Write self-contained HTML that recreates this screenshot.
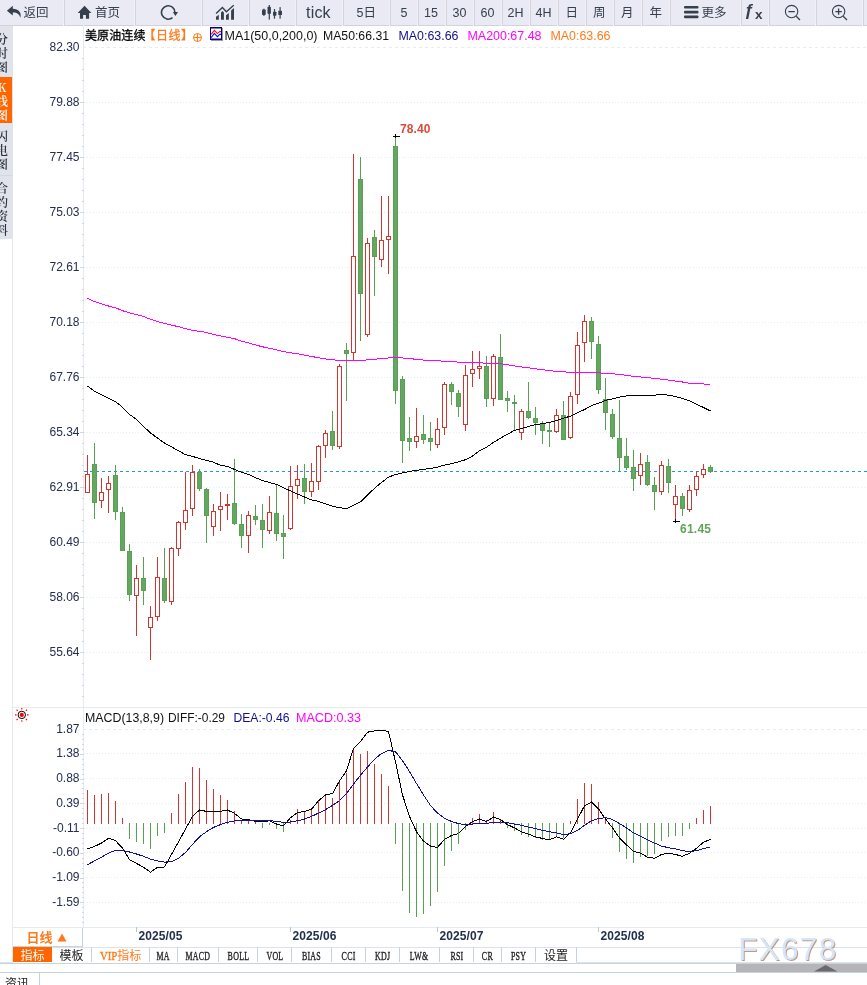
<!DOCTYPE html>
<html lang="zh"><head><meta charset="utf-8"><title>美原油连续 日线</title>
<style>
html,body{margin:0;padding:0;background:#fff;}
body{width:867px;height:985px;position:relative;overflow:hidden;font-family:"Liberation Sans","Noto Sans CJK SC",sans-serif;color:#333c48;}
#tb{position:absolute;left:0;top:0;width:867px;height:25px;background:#e9eaf4;border-bottom:1px solid #d0d2dc;}
#tb .c{position:absolute;top:0;height:25px;border-right:1px solid #d1d3dd;box-shadow:inset -1px 0 0 #f0f1f7;box-sizing:border-box;}
#tb .t{position:absolute;top:1px;height:25px;line-height:25px;font-size:12.5px;white-space:nowrap;color:#36404c;}
#tb svg{position:absolute;}
#sb{position:absolute;left:0;top:26px;width:13px;height:213px;background:#e1e3eb;overflow:hidden;}
#sb div{position:absolute;left:0;width:12px;font-size:12px;line-height:14px;color:#2a3441;display:flex;align-items:center;box-sizing:border-box;white-space:nowrap;font-family:"Noto Serif CJK SC","Noto Sans CJK SC",serif;}
.ab{position:absolute;white-space:nowrap;}
#sb span{display:block;margin-left:-4px;width:12px;text-align:center;font-weight:600;position:relative;top:1px}
#tabs{position:absolute;left:13px;top:947px;height:15px;font-size:12px;line-height:18px;}
#tabs span{position:absolute;top:0;height:15px;text-align:center;border-right:1px solid #c9d3dc;box-sizing:border-box;color:#222;white-space:nowrap;}
#tabs span.m{font-family:"Liberation Serif","Noto Sans CJK SC",serif;font-size:12px;letter-spacing:0.4px;}
#tabs i{display:inline-block;font-style:normal;transform:scaleX(0.66);transform-origin:50% 50%;-webkit-text-stroke:0.35px currentColor;}
</style></head><body>

<div id="tb">
<div class="c" style="left:0px;width:65px"></div><div style="position:absolute;left:63px;top:25px;width:1px;height:1px;background:#f6f7fa"></div>
<div class="c" style="left:65px;width:71px"></div><div style="position:absolute;left:134px;top:25px;width:1px;height:1px;background:#f6f7fa"></div>
<div class="c" style="left:136px;width:67px"></div><div style="position:absolute;left:201px;top:25px;width:1px;height:1px;background:#f6f7fa"></div>
<div class="c" style="left:203px;width:47px"></div><div style="position:absolute;left:248px;top:25px;width:1px;height:1px;background:#f6f7fa"></div>
<div class="c" style="left:250px;width:47px"></div><div style="position:absolute;left:295px;top:25px;width:1px;height:1px;background:#f6f7fa"></div>
<div class="c" style="left:297px;width:47px"></div><div style="position:absolute;left:342px;top:25px;width:1px;height:1px;background:#f6f7fa"></div>
<div class="c" style="left:344px;width:47px"></div><div style="position:absolute;left:389px;top:25px;width:1px;height:1px;background:#f6f7fa"></div>
<div class="c" style="left:391px;width:28px"></div><div style="position:absolute;left:417px;top:25px;width:1px;height:1px;background:#f6f7fa"></div>
<div class="c" style="left:419px;width:28px"></div><div style="position:absolute;left:445px;top:25px;width:1px;height:1px;background:#f6f7fa"></div>
<div class="c" style="left:447px;width:28px"></div><div style="position:absolute;left:473px;top:25px;width:1px;height:1px;background:#f6f7fa"></div>
<div class="c" style="left:475px;width:28px"></div><div style="position:absolute;left:501px;top:25px;width:1px;height:1px;background:#f6f7fa"></div>
<div class="c" style="left:503px;width:28px"></div><div style="position:absolute;left:529px;top:25px;width:1px;height:1px;background:#f6f7fa"></div>
<div class="c" style="left:531px;width:28px"></div><div style="position:absolute;left:557px;top:25px;width:1px;height:1px;background:#f6f7fa"></div>
<div class="c" style="left:559px;width:28px"></div><div style="position:absolute;left:585px;top:25px;width:1px;height:1px;background:#f6f7fa"></div>
<div class="c" style="left:587px;width:28px"></div><div style="position:absolute;left:613px;top:25px;width:1px;height:1px;background:#f6f7fa"></div>
<div class="c" style="left:615px;width:28px"></div><div style="position:absolute;left:641px;top:25px;width:1px;height:1px;background:#f6f7fa"></div>
<div class="c" style="left:643px;width:28px"></div><div style="position:absolute;left:669px;top:25px;width:1px;height:1px;background:#f6f7fa"></div>
<div class="c" style="left:671px;width:71px"></div><div style="position:absolute;left:740px;top:25px;width:1px;height:1px;background:#f6f7fa"></div>
<div class="c" style="left:742px;width:28px"></div><div style="position:absolute;left:768px;top:25px;width:1px;height:1px;background:#f6f7fa"></div>
<div class="c" style="left:770px;width:47px"></div><div style="position:absolute;left:815px;top:25px;width:1px;height:1px;background:#f6f7fa"></div>
<div class="c" style="left:817px;width:47px"></div><div style="position:absolute;left:862px;top:25px;width:1px;height:1px;background:#f6f7fa"></div>
<svg style="left:6px;top:5.4px" width="17" height="14" viewBox="0 0 17 14"><path d="M6.8 0.8 L0.9 5.7 L6.8 10.6 V7.5 C10.6 7.3 13.2 8.7 14.4 12.7 C15.8 7.6 12.6 3.9 6.8 3.7 Z" fill="#36404c"/></svg>
<span class="t" style="left:23.5px">返回</span>
<svg style="left:77px;top:5px" width="16" height="15" viewBox="0 0 16 15"><path d="M7.55 0.8 L0.7 7.9 H3 V13.8 H6.1 V9.9 H8.9 V13.8 H12.1 V7.9 H14.4 Z" fill="#36404c"/></svg>
<span class="t" style="left:95px">首页</span>
<svg style="left:160px;top:4px" width="20" height="18" viewBox="0 0 20 18"><path d="M14.9 8.45 A6.7 6.7 0 1 0 12.5 13.6" fill="none" stroke="#36404c" stroke-width="1.6"/><path d="M12.9 8.1 L18 8.1 L15.4 12 Z" fill="#36404c"/></svg>
<svg style="left:215px;top:0px" width="20" height="25" viewBox="215 0 20 25"><path d="M216.1 13.6 L222.4 7.4 L226.4 11.7 L233.7 5.3" fill="none" stroke="#36404c" stroke-width="1.4"/><path d="M216 19.8 V16.8 L218.8 14.7 V19.8 Z M221 19.8 V12.4 L222.45 11 L223.9 12.4 V19.8 Z M226 19.8 V15.2 L228.85 13.1 V19.8 Z M231.1 19.8 V10.4 L234 8 V19.8 Z" fill="#36404c"/></svg>
<svg style="left:260px;top:0px" width="25" height="25" viewBox="260 0 25 25"><g fill="#36404c"><rect x="262" y="9.5" width="3.7" height="5.5" rx="0.8"/><rect x="263.3" y="8.7" width="1.2" height="7.2"/><rect x="267.5" y="6.7" width="3.4" height="7.2" rx="0.8"/><rect x="268.7" y="5" width="1.2" height="14.6"/><rect x="273" y="11.7" width="3.4" height="4" rx="0.6"/><rect x="273.9" y="9" width="1.2" height="9.7"/><rect x="278.3" y="10.8" width="3.7" height="4.2" rx="0.6"/><rect x="279.5" y="7.1" width="1.2" height="11.6"/></g></svg>
<span class="t" style="left:306px;font-size:16px;top:1px;height:24px;line-height:24px;letter-spacing:0.2px">tick</span>
<span class="t" style="left:356.5px">5日</span>
<span class="t" style="left:400.5px">5</span>
<span class="t" style="left:424px">15</span>
<span class="t" style="left:452.5px">30</span>
<span class="t" style="left:480.5px">60</span>
<span class="t" style="left:507.5px">2H</span>
<span class="t" style="left:535.5px">4H</span>
<span class="t" style="left:565.5px">日</span>
<span class="t" style="left:593px">周</span>
<span class="t" style="left:621px">月</span>
<span class="t" style="left:649.5px">年</span>
<svg style="left:684px;top:5.4px" width="15" height="14" viewBox="0 0 15 14"><g fill="#36404c"><rect x="0" y="1" width="14.5" height="2.6" rx="1"/><rect x="0" y="5.8" width="14.5" height="2.6" rx="1"/><rect x="0" y="10.6" width="14.5" height="2.6" rx="1"/></g></svg>
<span class="t" style="left:701.5px">更多</span>
<span class="t" style="left:744.5px;font-size:17px;font-weight:bold;top:-2px">ƒ</span><span class="t" style="left:755px;font-size:13.5px;font-weight:bold;top:1.5px">x</span>
<svg style="left:784px;top:4px" width="18" height="18" viewBox="0 0 18 18"><circle cx="7.6" cy="7.6" r="6.2" fill="none" stroke="#36404c" stroke-width="1.1"/><path d="M4.4 7.6 H10.8 M12.2 12.2 L16 16" stroke="#36404c" stroke-width="1.3" fill="none"/></svg>
<svg style="left:831px;top:4px" width="18" height="18" viewBox="0 0 18 18"><circle cx="7.6" cy="7.6" r="6.2" fill="none" stroke="#36404c" stroke-width="1.1"/><path d="M4.4 7.6 H10.8 M7.6 4.4 V10.8 M12.2 12.2 L16 16" stroke="#36404c" stroke-width="1.3" fill="none"/></svg>
</div>
<div id="sb">
<div style="top:0;height:51px"><span>分<br>时<br>图</span></div>
<div style="top:51px;height:46px;background:#ff6600;color:#fff"><span>K<br>线<br>图</span></div>
<div style="top:97px;height:53px;border-bottom:1px solid #cfdae3"><span>闪<br>电<br>图</span></div>
<div style="top:150px;height:63px;"><span>合<br>约<br>资<br>料</span></div>
</div>
<svg class="ab" style="left:0;top:0" width="867" height="985" viewBox="0 0 867 985" font-family="Liberation Sans, Noto Sans CJK SC, sans-serif">
<g stroke="#e3eaf0" stroke-width="1" shape-rendering="crispEdges" fill="none">
<path d="M12.5 238 V963"/>
<path d="M83.5 25 V927"/>
<path d="M12 707.5 H867"/>
<path d="M12 927.5 H867"/>
</g>
<g stroke="#cfd8e2" stroke-width="1" shape-rendering="crispEdges">
<path d="M82 58.5 H84 M82 69.5 H84 M82 80.5 H84 M82 91.5 H84 M80 102.5 H84 M82 113.5 H84 M82 124.5 H84 M82 135.5 H84 M82 146.5 H84 M80 157.5 H84 M82 168.5 H84 M82 179.5 H84 M82 190.5 H84 M82 201.5 H84 M80 212.5 H84 M82 223.5 H84 M82 234.5 H84 M82 245.5 H84 M82 256.5 H84 M80 267.5 H84 M82 278.5 H84 M82 289.5 H84 M82 300.5 H84 M82 311.5 H84 M80 322.5 H84 M82 333.5 H84 M82 344.5 H84 M82 355.5 H84 M82 366.5 H84 M80 377.5 H84 M82 388.5 H84 M82 399.5 H84 M82 410.5 H84 M82 421.5 H84 M80 432.5 H84 M82 443.5 H84 M82 454.5 H84 M82 465.5 H84 M82 476.5 H84 M80 487.5 H84 M82 498.5 H84 M82 509.5 H84 M82 520.5 H84 M82 531.5 H84 M80 542.5 H84 M82 553.5 H84 M82 564.5 H84 M82 575.5 H84 M82 586.5 H84 M80 597.5 H84 M82 608.5 H84 M82 619.5 H84 M82 630.5 H84 M82 641.5 H84 M80 652.5 H84 M82 663.5 H84 M82 674.5 H84 M82 685.5 H84 M82 696.5 H84"/>
</g>
<g stroke="#e7ecf1" stroke-width="1" shape-rendering="crispEdges">
<path d="M83 47.5 H867" stroke-dasharray="3 3"/>
<path d="M84 102.5 H867 M84 157.5 H867 M84 212.5 H867 M84 267.5 H867 M84 322.5 H867 M84 377.5 H867 M84 432.5 H867 M84 487.5 H867 M84 542.5 H867 M84 597.5 H867 M84 652.5 H867" stroke-dasharray="1 2"/>
<path d="M83 729.5 H867" stroke-dasharray="3 3"/>
<path d="M84 753.5 H867 M84 778.5 H867 M84 803.5 H867 M84 828.5 H867 M84 852.5 H867 M84 877.5 H867 M84 902.5 H867" stroke-dasharray="1 2"/>
</g>
<g font-size="12" fill="#232f4e" text-anchor="end">
<text x="79.5" y="51.3">82.30</text>
<text x="79.5" y="106.3">79.88</text>
<text x="79.5" y="161.3">77.45</text>
<text x="79.5" y="216.3">75.03</text>
<text x="79.5" y="271.3">72.61</text>
<text x="79.5" y="326.3">70.18</text>
<text x="79.5" y="381.3">67.76</text>
<text x="79.5" y="436.3">65.34</text>
<text x="79.5" y="491.3">62.91</text>
<text x="79.5" y="546.3">60.49</text>
<text x="79.5" y="601.3">58.06</text>
<text x="79.5" y="656.3">55.64</text>
<text x="79.5" y="733.3">1.87</text>
<text x="79.5" y="757.3">1.38</text>
<text x="79.5" y="782.3">0.88</text>
<text x="79.5" y="807.3">0.39</text>
<text x="79.5" y="832.3">-0.11</text>
<text x="79.5" y="856.3">-0.60</text>
<text x="79.5" y="881.3">-1.09</text>
<text x="79.5" y="906.3">-1.59</text>
</g>
<g stroke="#cfd8e2" stroke-width="1" shape-rendering="crispEdges">
<path d="M82 734.5 H84 M82 739.5 H84 M82 744.5 H84 M82 749.5 H84 M80 754.5 H84 M82 759.5 H84 M82 764.5 H84 M82 769.5 H84 M82 774.5 H84 M80 779.5 H84 M82 783.5 H84 M82 788.5 H84 M82 793.5 H84 M82 798.5 H84 M80 803.5 H84 M82 808.5 H84 M82 813.5 H84 M82 818.5 H84 M82 823.5 H84 M80 828.5 H84 M82 833.5 H84 M82 838.5 H84 M82 843.5 H84 M82 848.5 H84 M80 853.5 H84 M82 858.5 H84 M82 863.5 H84 M82 868.5 H84 M82 873.5 H84 M80 878.5 H84 M82 882.5 H84 M82 887.5 H84 M82 892.5 H84 M82 897.5 H84 M80 902.5 H84 M82 907.5 H84 M82 912.5 H84 M82 917.5 H84 M82 922.5 H84"/>
</g>
<path d="M84 471.5 H867" stroke="#1e90ff" stroke-width="1" stroke-dasharray="3 3" shape-rendering="crispEdges"/>
<g shape-rendering="crispEdges">
<path d="M87.5 455 V474" stroke="#cf362f" stroke-width="1"/>
<rect x="85.5" y="474.5" width="4" height="18" fill="#fff" stroke="#cf362f" stroke-width="1"/>
<path d="M94.5 443 V519" stroke="#59a055" stroke-width="1"/>
<rect x="92.5" y="464.5" width="4" height="38" fill="#63a760" stroke="#59a055" stroke-width="1"/>
<path d="M101.5 478 V492" stroke="#cf362f" stroke-width="1"/>
<path d="M101.5 501 V508" stroke="#cf362f" stroke-width="1"/>
<rect x="99.5" y="492.5" width="4" height="8" fill="#fff" stroke="#cf362f" stroke-width="1"/>
<path d="M108.5 476 V483" stroke="#cf362f" stroke-width="1"/>
<path d="M108.5 490 V513" stroke="#cf362f" stroke-width="1"/>
<rect x="106.5" y="483.5" width="4" height="6" fill="#fff" stroke="#cf362f" stroke-width="1"/>
<path d="M115.5 465 V520" stroke="#59a055" stroke-width="1"/>
<rect x="113.5" y="475.5" width="4" height="36" fill="#63a760" stroke="#59a055" stroke-width="1"/>
<path d="M122.5 507 V551" stroke="#59a055" stroke-width="1"/>
<rect x="120.5" y="512.5" width="4" height="38" fill="#63a760" stroke="#59a055" stroke-width="1"/>
<path d="M129.5 544 V601" stroke="#59a055" stroke-width="1"/>
<rect x="127.5" y="551.5" width="4" height="43" fill="#63a760" stroke="#59a055" stroke-width="1"/>
<path d="M136.5 565 V578" stroke="#cf362f" stroke-width="1"/>
<path d="M136.5 596 V636" stroke="#cf362f" stroke-width="1"/>
<rect x="134.5" y="578.5" width="4" height="17" fill="#fff" stroke="#cf362f" stroke-width="1"/>
<path d="M143.5 557 V605" stroke="#59a055" stroke-width="1"/>
<rect x="141.5" y="578.5" width="4" height="12" fill="#63a760" stroke="#59a055" stroke-width="1"/>
<path d="M150.5 606 V617" stroke="#cf362f" stroke-width="1"/>
<path d="M150.5 628 V660" stroke="#cf362f" stroke-width="1"/>
<rect x="148.5" y="617.5" width="4" height="10" fill="#fff" stroke="#cf362f" stroke-width="1"/>
<path d="M157.5 557 V577" stroke="#cf362f" stroke-width="1"/>
<path d="M157.5 617 V621" stroke="#cf362f" stroke-width="1"/>
<rect x="155.5" y="577.5" width="4" height="39" fill="#fff" stroke="#cf362f" stroke-width="1"/>
<path d="M164.5 548 V603" stroke="#59a055" stroke-width="1"/>
<rect x="162.5" y="578.5" width="4" height="22" fill="#63a760" stroke="#59a055" stroke-width="1"/>
<path d="M171.5 547 V548" stroke="#cf362f" stroke-width="1"/>
<path d="M171.5 602 V605" stroke="#cf362f" stroke-width="1"/>
<rect x="169.5" y="548.5" width="4" height="53" fill="#fff" stroke="#cf362f" stroke-width="1"/>
<path d="M178.5 521 V522" stroke="#cf362f" stroke-width="1"/>
<path d="M178.5 549 V556" stroke="#cf362f" stroke-width="1"/>
<rect x="176.5" y="522.5" width="4" height="26" fill="#fff" stroke="#cf362f" stroke-width="1"/>
<path d="M185.5 472 V510" stroke="#cf362f" stroke-width="1"/>
<path d="M185.5 523 V530" stroke="#cf362f" stroke-width="1"/>
<rect x="183.5" y="510.5" width="4" height="12" fill="#fff" stroke="#cf362f" stroke-width="1"/>
<path d="M192.5 465 V472" stroke="#cf362f" stroke-width="1"/>
<path d="M192.5 509 V516" stroke="#cf362f" stroke-width="1"/>
<rect x="190.5" y="472.5" width="4" height="36" fill="#fff" stroke="#cf362f" stroke-width="1"/>
<path d="M199.5 469 V491" stroke="#59a055" stroke-width="1"/>
<rect x="197.5" y="472.5" width="4" height="16" fill="#63a760" stroke="#59a055" stroke-width="1"/>
<path d="M206.5 488 V543" stroke="#59a055" stroke-width="1"/>
<rect x="204.5" y="489.5" width="4" height="26" fill="#63a760" stroke="#59a055" stroke-width="1"/>
<path d="M213.5 504 V511" stroke="#cf362f" stroke-width="1"/>
<path d="M213.5 527 V536" stroke="#cf362f" stroke-width="1"/>
<rect x="211.5" y="511.5" width="4" height="15" fill="#fff" stroke="#cf362f" stroke-width="1"/>
<path d="M220.5 492 V506" stroke="#cf362f" stroke-width="1"/>
<path d="M220.5 510 V531" stroke="#cf362f" stroke-width="1"/>
<rect x="218.5" y="506.5" width="4" height="3" fill="#fff" stroke="#cf362f" stroke-width="1"/>
<path d="M227.5 494 V504" stroke="#cf362f" stroke-width="1"/>
<path d="M227.5 506 V520" stroke="#cf362f" stroke-width="1"/>
<rect x="225.5" y="504.5" width="4" height="1" fill="#fff" stroke="#cf362f" stroke-width="1"/>
<path d="M234.5 459 V525" stroke="#59a055" stroke-width="1"/>
<rect x="232.5" y="503.5" width="4" height="20" fill="#63a760" stroke="#59a055" stroke-width="1"/>
<path d="M241.5 514 V548" stroke="#59a055" stroke-width="1"/>
<rect x="239.5" y="524.5" width="4" height="11" fill="#63a760" stroke="#59a055" stroke-width="1"/>
<path d="M248.5 511 V515" stroke="#cf362f" stroke-width="1"/>
<path d="M248.5 536 V553" stroke="#cf362f" stroke-width="1"/>
<rect x="246.5" y="515.5" width="4" height="20" fill="#fff" stroke="#cf362f" stroke-width="1"/>
<path d="M255.5 505 V525" stroke="#59a055" stroke-width="1"/>
<rect x="253.5" y="516.5" width="4" height="3" fill="#63a760" stroke="#59a055" stroke-width="1"/>
<path d="M262.5 504 V548" stroke="#59a055" stroke-width="1"/>
<rect x="260.5" y="520.5" width="4" height="9" fill="#63a760" stroke="#59a055" stroke-width="1"/>
<path d="M269.5 496 V512" stroke="#cf362f" stroke-width="1"/>
<path d="M269.5 531 V534" stroke="#cf362f" stroke-width="1"/>
<rect x="267.5" y="512.5" width="4" height="18" fill="#fff" stroke="#cf362f" stroke-width="1"/>
<path d="M276.5 485 V541" stroke="#59a055" stroke-width="1"/>
<rect x="274.5" y="513.5" width="4" height="20" fill="#63a760" stroke="#59a055" stroke-width="1"/>
<path d="M283.5 515 V559" stroke="#59a055" stroke-width="1"/>
<rect x="281.5" y="533.5" width="4" height="3" fill="#63a760" stroke="#59a055" stroke-width="1"/>
<path d="M290.5 466 V486" stroke="#cf362f" stroke-width="1"/>
<path d="M290.5 529 V530" stroke="#cf362f" stroke-width="1"/>
<rect x="288.5" y="486.5" width="4" height="42" fill="#fff" stroke="#cf362f" stroke-width="1"/>
<path d="M297.5 465 V479" stroke="#cf362f" stroke-width="1"/>
<path d="M297.5 486 V499" stroke="#cf362f" stroke-width="1"/>
<rect x="295.5" y="479.5" width="4" height="6" fill="#fff" stroke="#cf362f" stroke-width="1"/>
<path d="M304.5 464 V504" stroke="#59a055" stroke-width="1"/>
<rect x="302.5" y="478.5" width="4" height="13" fill="#63a760" stroke="#59a055" stroke-width="1"/>
<path d="M311.5 463 V481" stroke="#cf362f" stroke-width="1"/>
<path d="M311.5 492 V497" stroke="#cf362f" stroke-width="1"/>
<rect x="309.5" y="481.5" width="4" height="10" fill="#fff" stroke="#cf362f" stroke-width="1"/>
<path d="M318.5 445 V446" stroke="#cf362f" stroke-width="1"/>
<path d="M318.5 482 V490" stroke="#cf362f" stroke-width="1"/>
<rect x="316.5" y="446.5" width="4" height="35" fill="#fff" stroke="#cf362f" stroke-width="1"/>
<path d="M325.5 430 V433" stroke="#cf362f" stroke-width="1"/>
<path d="M325.5 446 V458" stroke="#cf362f" stroke-width="1"/>
<rect x="323.5" y="433.5" width="4" height="12" fill="#fff" stroke="#cf362f" stroke-width="1"/>
<path d="M332.5 411 V450" stroke="#59a055" stroke-width="1"/>
<rect x="330.5" y="431.5" width="4" height="14" fill="#63a760" stroke="#59a055" stroke-width="1"/>
<path d="M339.5 364 V366" stroke="#cf362f" stroke-width="1"/>
<path d="M339.5 447 V449" stroke="#cf362f" stroke-width="1"/>
<rect x="337.5" y="366.5" width="4" height="80" fill="#fff" stroke="#cf362f" stroke-width="1"/>
<path d="M346.5 343 V401" stroke="#59a055" stroke-width="1"/>
<rect x="344.5" y="350.5" width="4" height="3" fill="#63a760" stroke="#59a055" stroke-width="1"/>
<path d="M353.5 154 V256" stroke="#cf362f" stroke-width="1"/>
<path d="M353.5 353 V360" stroke="#cf362f" stroke-width="1"/>
<rect x="351.5" y="256.5" width="4" height="96" fill="#fff" stroke="#cf362f" stroke-width="1"/>
<path d="M360.5 157 V341" stroke="#59a055" stroke-width="1"/>
<rect x="358.5" y="179.5" width="4" height="114" fill="#63a760" stroke="#59a055" stroke-width="1"/>
<path d="M367.5 238 V243" stroke="#cf362f" stroke-width="1"/>
<path d="M367.5 335 V337" stroke="#cf362f" stroke-width="1"/>
<rect x="365.5" y="243.5" width="4" height="91" fill="#fff" stroke="#cf362f" stroke-width="1"/>
<path d="M374.5 230 V296" stroke="#59a055" stroke-width="1"/>
<rect x="372.5" y="237.5" width="4" height="19" fill="#63a760" stroke="#59a055" stroke-width="1"/>
<path d="M381.5 196 V240" stroke="#cf362f" stroke-width="1"/>
<path d="M381.5 260 V267" stroke="#cf362f" stroke-width="1"/>
<rect x="379.5" y="240.5" width="4" height="19" fill="#fff" stroke="#cf362f" stroke-width="1"/>
<path d="M388.5 196 V236" stroke="#cf362f" stroke-width="1"/>
<path d="M388.5 240 V274" stroke="#cf362f" stroke-width="1"/>
<rect x="386.5" y="236.5" width="4" height="3" fill="#fff" stroke="#cf362f" stroke-width="1"/>
<path d="M395.5 136 V404" stroke="#59a055" stroke-width="1"/>
<rect x="393.5" y="146.5" width="4" height="244" fill="#63a760" stroke="#59a055" stroke-width="1"/>
<path d="M402.5 376 V463" stroke="#59a055" stroke-width="1"/>
<rect x="400.5" y="379.5" width="4" height="61" fill="#63a760" stroke="#59a055" stroke-width="1"/>
<path d="M409.5 417 V451" stroke="#59a055" stroke-width="1"/>
<rect x="407.5" y="438.5" width="4" height="3" fill="#63a760" stroke="#59a055" stroke-width="1"/>
<path d="M416.5 408 V436" stroke="#cf362f" stroke-width="1"/>
<path d="M416.5 442 V448" stroke="#cf362f" stroke-width="1"/>
<rect x="414.5" y="436.5" width="4" height="5" fill="#fff" stroke="#cf362f" stroke-width="1"/>
<path d="M423.5 415 V444" stroke="#59a055" stroke-width="1"/>
<rect x="421.5" y="434.5" width="4" height="5" fill="#63a760" stroke="#59a055" stroke-width="1"/>
<path d="M430.5 422 V451" stroke="#59a055" stroke-width="1"/>
<rect x="428.5" y="438.5" width="4" height="3" fill="#63a760" stroke="#59a055" stroke-width="1"/>
<path d="M437.5 418 V429" stroke="#cf362f" stroke-width="1"/>
<path d="M437.5 445 V448" stroke="#cf362f" stroke-width="1"/>
<rect x="435.5" y="429.5" width="4" height="15" fill="#fff" stroke="#cf362f" stroke-width="1"/>
<path d="M444.5 382 V384" stroke="#cf362f" stroke-width="1"/>
<path d="M444.5 428 V435" stroke="#cf362f" stroke-width="1"/>
<rect x="442.5" y="384.5" width="4" height="43" fill="#fff" stroke="#cf362f" stroke-width="1"/>
<path d="M451.5 382 V405" stroke="#59a055" stroke-width="1"/>
<rect x="449.5" y="384.5" width="4" height="7" fill="#63a760" stroke="#59a055" stroke-width="1"/>
<path d="M458.5 390 V417" stroke="#59a055" stroke-width="1"/>
<rect x="456.5" y="393.5" width="4" height="13" fill="#63a760" stroke="#59a055" stroke-width="1"/>
<path d="M465.5 365 V375" stroke="#cf362f" stroke-width="1"/>
<path d="M465.5 425 V431" stroke="#cf362f" stroke-width="1"/>
<rect x="463.5" y="375.5" width="4" height="49" fill="#fff" stroke="#cf362f" stroke-width="1"/>
<path d="M472.5 351 V369" stroke="#cf362f" stroke-width="1"/>
<path d="M472.5 374 V387" stroke="#cf362f" stroke-width="1"/>
<rect x="470.5" y="369.5" width="4" height="4" fill="#fff" stroke="#cf362f" stroke-width="1"/>
<path d="M479.5 351 V366" stroke="#cf362f" stroke-width="1"/>
<path d="M479.5 369 V379" stroke="#cf362f" stroke-width="1"/>
<rect x="477.5" y="366.5" width="4" height="2" fill="#fff" stroke="#cf362f" stroke-width="1"/>
<path d="M486.5 356 V407" stroke="#59a055" stroke-width="1"/>
<rect x="484.5" y="366.5" width="4" height="32" fill="#63a760" stroke="#59a055" stroke-width="1"/>
<path d="M493.5 354 V356" stroke="#cf362f" stroke-width="1"/>
<path d="M493.5 399 V406" stroke="#cf362f" stroke-width="1"/>
<rect x="491.5" y="356.5" width="4" height="42" fill="#fff" stroke="#cf362f" stroke-width="1"/>
<path d="M500.5 334 V400" stroke="#59a055" stroke-width="1"/>
<rect x="498.5" y="357.5" width="4" height="42" fill="#63a760" stroke="#59a055" stroke-width="1"/>
<path d="M507.5 391 V412" stroke="#59a055" stroke-width="1"/>
<rect x="505.5" y="398.5" width="4" height="2" fill="#63a760" stroke="#59a055" stroke-width="1"/>
<path d="M514.5 395 V430" stroke="#59a055" stroke-width="1"/>
<rect x="512.5" y="402.5" width="4" height="1" fill="#63a760" stroke="#59a055" stroke-width="1"/>
<path d="M521.5 409 V411" stroke="#cf362f" stroke-width="1"/>
<path d="M521.5 433 V440" stroke="#cf362f" stroke-width="1"/>
<rect x="519.5" y="411.5" width="4" height="21" fill="#fff" stroke="#cf362f" stroke-width="1"/>
<path d="M528.5 382 V419" stroke="#59a055" stroke-width="1"/>
<rect x="526.5" y="411.5" width="4" height="6" fill="#63a760" stroke="#59a055" stroke-width="1"/>
<path d="M535.5 407 V435" stroke="#59a055" stroke-width="1"/>
<rect x="533.5" y="418.5" width="4" height="4" fill="#63a760" stroke="#59a055" stroke-width="1"/>
<path d="M542.5 421 V444" stroke="#59a055" stroke-width="1"/>
<rect x="540.5" y="423.5" width="4" height="7" fill="#63a760" stroke="#59a055" stroke-width="1"/>
<path d="M549.5 422 V447" stroke="#59a055" stroke-width="1"/>
<rect x="547.5" y="430.5" width="4" height="1" fill="#63a760" stroke="#59a055" stroke-width="1"/>
<path d="M556.5 409 V415" stroke="#cf362f" stroke-width="1"/>
<path d="M556.5 432 V433" stroke="#cf362f" stroke-width="1"/>
<rect x="554.5" y="415.5" width="4" height="16" fill="#fff" stroke="#cf362f" stroke-width="1"/>
<path d="M563.5 401 V440" stroke="#59a055" stroke-width="1"/>
<rect x="561.5" y="415.5" width="4" height="24" fill="#63a760" stroke="#59a055" stroke-width="1"/>
<path d="M570.5 392 V396" stroke="#cf362f" stroke-width="1"/>
<path d="M570.5 438 V439" stroke="#cf362f" stroke-width="1"/>
<rect x="568.5" y="396.5" width="4" height="41" fill="#fff" stroke="#cf362f" stroke-width="1"/>
<path d="M577.5 332 V345" stroke="#cf362f" stroke-width="1"/>
<path d="M577.5 395 V404" stroke="#cf362f" stroke-width="1"/>
<rect x="575.5" y="345.5" width="4" height="49" fill="#fff" stroke="#cf362f" stroke-width="1"/>
<path d="M584.5 315 V321" stroke="#cf362f" stroke-width="1"/>
<path d="M584.5 343 V362" stroke="#cf362f" stroke-width="1"/>
<rect x="582.5" y="321.5" width="4" height="21" fill="#fff" stroke="#cf362f" stroke-width="1"/>
<path d="M591.5 317 V359" stroke="#59a055" stroke-width="1"/>
<rect x="589.5" y="321.5" width="4" height="20" fill="#63a760" stroke="#59a055" stroke-width="1"/>
<path d="M598.5 336 V394" stroke="#59a055" stroke-width="1"/>
<rect x="596.5" y="344.5" width="4" height="45" fill="#63a760" stroke="#59a055" stroke-width="1"/>
<path d="M605.5 378 V430" stroke="#59a055" stroke-width="1"/>
<rect x="603.5" y="399.5" width="4" height="13" fill="#63a760" stroke="#59a055" stroke-width="1"/>
<path d="M612.5 409 V439" stroke="#59a055" stroke-width="1"/>
<rect x="610.5" y="414.5" width="4" height="22" fill="#63a760" stroke="#59a055" stroke-width="1"/>
<path d="M619.5 400 V471" stroke="#59a055" stroke-width="1"/>
<rect x="617.5" y="438.5" width="4" height="19" fill="#63a760" stroke="#59a055" stroke-width="1"/>
<path d="M626.5 438 V470" stroke="#59a055" stroke-width="1"/>
<rect x="624.5" y="456.5" width="4" height="11" fill="#63a760" stroke="#59a055" stroke-width="1"/>
<path d="M633.5 450 V491" stroke="#59a055" stroke-width="1"/>
<rect x="631.5" y="467.5" width="4" height="11" fill="#63a760" stroke="#59a055" stroke-width="1"/>
<path d="M640.5 453 V464" stroke="#cf362f" stroke-width="1"/>
<path d="M640.5 476 V485" stroke="#cf362f" stroke-width="1"/>
<rect x="638.5" y="464.5" width="4" height="11" fill="#fff" stroke="#cf362f" stroke-width="1"/>
<path d="M647.5 455 V486" stroke="#59a055" stroke-width="1"/>
<rect x="645.5" y="462.5" width="4" height="22" fill="#63a760" stroke="#59a055" stroke-width="1"/>
<path d="M654.5 477 V510" stroke="#59a055" stroke-width="1"/>
<rect x="652.5" y="485.5" width="4" height="6" fill="#63a760" stroke="#59a055" stroke-width="1"/>
<path d="M661.5 461 V465" stroke="#cf362f" stroke-width="1"/>
<path d="M661.5 492 V495" stroke="#cf362f" stroke-width="1"/>
<rect x="659.5" y="465.5" width="4" height="26" fill="#fff" stroke="#cf362f" stroke-width="1"/>
<path d="M668.5 459 V493" stroke="#59a055" stroke-width="1"/>
<rect x="666.5" y="466.5" width="4" height="16" fill="#63a760" stroke="#59a055" stroke-width="1"/>
<path d="M675.5 485 V496" stroke="#cf362f" stroke-width="1"/>
<path d="M675.5 505 V522" stroke="#cf362f" stroke-width="1"/>
<rect x="673.5" y="496.5" width="4" height="8" fill="#fff" stroke="#cf362f" stroke-width="1"/>
<path d="M682.5 493 V516" stroke="#59a055" stroke-width="1"/>
<rect x="680.5" y="496.5" width="4" height="12" fill="#63a760" stroke="#59a055" stroke-width="1"/>
<path d="M689.5 485 V490" stroke="#cf362f" stroke-width="1"/>
<path d="M689.5 510 V512" stroke="#cf362f" stroke-width="1"/>
<rect x="687.5" y="490.5" width="4" height="19" fill="#fff" stroke="#cf362f" stroke-width="1"/>
<path d="M696.5 471 V476" stroke="#cf362f" stroke-width="1"/>
<path d="M696.5 490 V496" stroke="#cf362f" stroke-width="1"/>
<rect x="694.5" y="476.5" width="4" height="13" fill="#fff" stroke="#cf362f" stroke-width="1"/>
<path d="M703.5 464 V469" stroke="#cf362f" stroke-width="1"/>
<path d="M703.5 475 V478" stroke="#cf362f" stroke-width="1"/>
<rect x="701.5" y="469.5" width="4" height="5" fill="#fff" stroke="#cf362f" stroke-width="1"/>
<path d="M710.5 465 V473" stroke="#59a055" stroke-width="1"/>
<rect x="708.5" y="467.5" width="4" height="4" fill="#63a760" stroke="#59a055" stroke-width="1"/>
</g>
<polyline points="87.5,298.1 94.5,301.6 101.5,303.9 108.5,306.0 115.5,307.8 122.5,310.7 129.5,312.8 136.5,314.7 143.5,316.4 150.5,319.3 157.5,321.5 164.5,323.4 171.5,325.1 178.5,326.7 185.5,328.6 192.5,330.3 199.5,331.3 206.5,332.5 213.5,334.4 220.5,335.9 227.5,337.3 234.5,338.6 241.5,341.3 248.5,342.9 255.5,344.9 262.5,346.8 269.5,348.3 276.5,349.9 283.5,351.6 290.5,352.8 297.5,353.7 304.5,355.1 311.5,356.4 318.5,357.8 325.5,359.0 332.5,359.7 339.5,360.5 346.5,360.5 353.5,360.5 360.5,360.5 367.5,359.9 374.5,359.3 381.5,358.6 388.5,358.0 395.5,357.5 402.5,358.0 409.5,358.6 416.5,359.3 423.5,360.1 430.5,360.5 437.5,360.9 444.5,361.1 451.5,361.5 458.5,362.2 465.5,362.4 472.5,362.6 479.5,362.8 486.5,363.2 493.5,363.4 500.5,363.8 507.5,364.7 514.5,365.9 521.5,366.9 528.5,367.8 535.5,368.8 542.5,369.8 549.5,370.5 556.5,371.6 563.5,371.8 570.5,372.4 577.5,372.6 584.5,372.6 591.5,372.6 598.5,372.8 605.5,373.4 612.5,373.7 619.5,374.5 626.5,375.3 633.5,376.3 640.5,377.0 647.5,377.6 654.5,378.4 661.5,379.2 668.5,380.1 675.5,381.1 682.5,382.0 689.5,383.2 696.5,383.8 703.5,384.0 710.5,384.6" fill="none" stroke="#ff00ff" stroke-width="1" shape-rendering="crispEdges"/>
<polyline points="87.5,385.9 94.5,391.4 101.5,394.8 108.5,398.1 115.5,401.6 122.5,407.2 129.5,414.5 136.5,419.3 143.5,426.5 150.5,432.9 157.5,438.1 164.5,443.1 171.5,446.8 178.5,450.8 185.5,454.7 192.5,456.4 199.5,458.5 206.5,460.3 213.5,462.2 220.5,465.3 227.5,466.3 234.5,469.5 241.5,472.3 248.5,474.4 255.5,477.7 262.5,480.6 269.5,482.5 276.5,484.4 283.5,487.9 290.5,490.8 297.5,494.1 304.5,497.0 311.5,499.9 318.5,501.4 325.5,503.7 332.5,506.3 339.5,507.6 346.5,508.6 353.5,505.3 360.5,501.8 367.5,495.1 374.5,488.3 381.5,482.5 388.5,477.1 395.5,474.6 402.5,472.9 409.5,471.5 416.5,470.3 423.5,469.4 430.5,468.4 437.5,467.1 444.5,465.1 451.5,463.6 458.5,461.9 465.5,459.7 472.5,456.1 479.5,450.7 486.5,447.2 493.5,442.4 500.5,438.1 507.5,434.2 514.5,430.4 521.5,428.5 528.5,426.5 535.5,424.6 542.5,423.6 549.5,422.3 556.5,420.7 563.5,418.1 570.5,416.2 577.5,412.9 584.5,409.5 591.5,405.6 598.5,403.3 605.5,400.4 612.5,398.8 619.5,397.1 626.5,395.9 633.5,395.4 640.5,395.4 647.5,395.4 654.5,395.2 661.5,394.2 668.5,395.2 675.5,396.5 682.5,398.5 689.5,400.8 696.5,404.2 703.5,407.5 710.5,411.0" fill="none" stroke="#000" stroke-width="1" shape-rendering="crispEdges"/>
<path d="M393 136.5 H400 M395.5 134 V138" stroke="#000" stroke-width="1" shape-rendering="crispEdges"/>
<text x="400" y="133" font-size="12" font-weight="bold" fill="#dc4a3a" textLength="30.5">78.40</text>
<path d="M673 521.5 H680 M675.5 519 V523" stroke="#000" stroke-width="1" shape-rendering="crispEdges"/>
<text x="680" y="533" font-size="12" font-weight="bold" fill="#60a458" textLength="31">61.45</text>
<g shape-rendering="crispEdges">
<path d="M87.5 790 V824" stroke="#cf362f" stroke-width="1"/>
<path d="M94.5 795 V824" stroke="#cf362f" stroke-width="1"/>
<path d="M101.5 794 V824" stroke="#cf362f" stroke-width="1"/>
<path d="M108.5 793 V824" stroke="#cf362f" stroke-width="1"/>
<path d="M115.5 801 V824" stroke="#cf362f" stroke-width="1"/>
<path d="M122.5 818 V824" stroke="#cf362f" stroke-width="1"/>
<path d="M129.5 823 V839" stroke="#59a055" stroke-width="1"/>
<path d="M136.5 823 V842" stroke="#59a055" stroke-width="1"/>
<path d="M143.5 823 V844" stroke="#59a055" stroke-width="1"/>
<path d="M150.5 823 V849" stroke="#59a055" stroke-width="1"/>
<path d="M157.5 823 V836" stroke="#59a055" stroke-width="1"/>
<path d="M164.5 823 V833" stroke="#59a055" stroke-width="1"/>
<path d="M171.5 813 V824" stroke="#cf362f" stroke-width="1"/>
<path d="M178.5 794 V824" stroke="#cf362f" stroke-width="1"/>
<path d="M185.5 782 V824" stroke="#cf362f" stroke-width="1"/>
<path d="M192.5 767 V824" stroke="#cf362f" stroke-width="1"/>
<path d="M199.5 768 V824" stroke="#cf362f" stroke-width="1"/>
<path d="M206.5 780 V824" stroke="#cf362f" stroke-width="1"/>
<path d="M213.5 789 V824" stroke="#cf362f" stroke-width="1"/>
<path d="M220.5 795 V824" stroke="#cf362f" stroke-width="1"/>
<path d="M227.5 800 V824" stroke="#cf362f" stroke-width="1"/>
<path d="M234.5 811 V824" stroke="#cf362f" stroke-width="1"/>
<path d="M241.5 820 V824" stroke="#cf362f" stroke-width="1"/>
<path d="M248.5 821 V824" stroke="#cf362f" stroke-width="1"/>
<path d="M255.5 822 V824" stroke="#cf362f" stroke-width="1"/>
<path d="M262.5 823 V828" stroke="#59a055" stroke-width="1"/>
<path d="M269.5 823 V825" stroke="#59a055" stroke-width="1"/>
<path d="M276.5 823 V829" stroke="#59a055" stroke-width="1"/>
<path d="M283.5 823 V832" stroke="#59a055" stroke-width="1"/>
<path d="M290.5 820 V824" stroke="#cf362f" stroke-width="1"/>
<path d="M297.5 809 V824" stroke="#cf362f" stroke-width="1"/>
<path d="M304.5 811 V824" stroke="#cf362f" stroke-width="1"/>
<path d="M311.5 809 V824" stroke="#cf362f" stroke-width="1"/>
<path d="M318.5 801 V824" stroke="#cf362f" stroke-width="1"/>
<path d="M325.5 794 V824" stroke="#cf362f" stroke-width="1"/>
<path d="M332.5 798 V824" stroke="#cf362f" stroke-width="1"/>
<path d="M339.5 781 V824" stroke="#cf362f" stroke-width="1"/>
<path d="M346.5 773 V824" stroke="#cf362f" stroke-width="1"/>
<path d="M353.5 748 V824" stroke="#cf362f" stroke-width="1"/>
<path d="M360.5 754 V824" stroke="#cf362f" stroke-width="1"/>
<path d="M367.5 751 V824" stroke="#cf362f" stroke-width="1"/>
<path d="M374.5 764 V824" stroke="#cf362f" stroke-width="1"/>
<path d="M381.5 774 V824" stroke="#cf362f" stroke-width="1"/>
<path d="M388.5 786 V824" stroke="#cf362f" stroke-width="1"/>
<path d="M395.5 823 V844" stroke="#59a055" stroke-width="1"/>
<path d="M402.5 823 V891" stroke="#59a055" stroke-width="1"/>
<path d="M409.5 823 V913" stroke="#59a055" stroke-width="1"/>
<path d="M416.5 823 V917" stroke="#59a055" stroke-width="1"/>
<path d="M423.5 823 V914" stroke="#59a055" stroke-width="1"/>
<path d="M430.5 823 V906" stroke="#59a055" stroke-width="1"/>
<path d="M437.5 823 V892" stroke="#59a055" stroke-width="1"/>
<path d="M444.5 823 V866" stroke="#59a055" stroke-width="1"/>
<path d="M451.5 823 V851" stroke="#59a055" stroke-width="1"/>
<path d="M458.5 823 V844" stroke="#59a055" stroke-width="1"/>
<path d="M465.5 823 V830" stroke="#59a055" stroke-width="1"/>
<path d="M472.5 818 V824" stroke="#cf362f" stroke-width="1"/>
<path d="M479.5 814 V824" stroke="#cf362f" stroke-width="1"/>
<path d="M486.5 820 V824" stroke="#cf362f" stroke-width="1"/>
<path d="M493.5 812 V824" stroke="#cf362f" stroke-width="1"/>
<path d="M500.5 820 V824" stroke="#cf362f" stroke-width="1"/>
<path d="M507.5 823 V828" stroke="#59a055" stroke-width="1"/>
<path d="M514.5 823 V831" stroke="#59a055" stroke-width="1"/>
<path d="M521.5 823 V835" stroke="#59a055" stroke-width="1"/>
<path d="M528.5 823 V837" stroke="#59a055" stroke-width="1"/>
<path d="M535.5 823 V838" stroke="#59a055" stroke-width="1"/>
<path d="M542.5 823 V840" stroke="#59a055" stroke-width="1"/>
<path d="M549.5 823 V839" stroke="#59a055" stroke-width="1"/>
<path d="M556.5 823 V836" stroke="#59a055" stroke-width="1"/>
<path d="M563.5 823 V838" stroke="#59a055" stroke-width="1"/>
<path d="M570.5 821 V824" stroke="#cf362f" stroke-width="1"/>
<path d="M577.5 799 V824" stroke="#cf362f" stroke-width="1"/>
<path d="M584.5 783 V824" stroke="#cf362f" stroke-width="1"/>
<path d="M591.5 784 V824" stroke="#cf362f" stroke-width="1"/>
<path d="M598.5 802 V824" stroke="#cf362f" stroke-width="1"/>
<path d="M605.5 820 V824" stroke="#cf362f" stroke-width="1"/>
<path d="M612.5 823 V838" stroke="#59a055" stroke-width="1"/>
<path d="M619.5 823 V852" stroke="#59a055" stroke-width="1"/>
<path d="M626.5 823 V859" stroke="#59a055" stroke-width="1"/>
<path d="M633.5 823 V863" stroke="#59a055" stroke-width="1"/>
<path d="M640.5 823 V857" stroke="#59a055" stroke-width="1"/>
<path d="M647.5 823 V856" stroke="#59a055" stroke-width="1"/>
<path d="M654.5 823 V854" stroke="#59a055" stroke-width="1"/>
<path d="M661.5 823 V841" stroke="#59a055" stroke-width="1"/>
<path d="M668.5 823 V837" stroke="#59a055" stroke-width="1"/>
<path d="M675.5 823 V836" stroke="#59a055" stroke-width="1"/>
<path d="M682.5 823 V836" stroke="#59a055" stroke-width="1"/>
<path d="M689.5 823 V829" stroke="#59a055" stroke-width="1"/>
<path d="M696.5 818 V824" stroke="#cf362f" stroke-width="1"/>
<path d="M703.5 810 V824" stroke="#cf362f" stroke-width="1"/>
<path d="M710.5 806 V824" stroke="#cf362f" stroke-width="1"/>
</g>
<polyline points="87.5,848.7 94.5,846.4 101.5,843.1 108.5,838.3 115.5,840.6 122.5,848.2 129.5,859.6 136.5,863.4 143.5,867.2 150.5,872.3 157.5,867.2 164.5,867.0 171.5,854.5 178.5,841.8 185.5,829.1 192.5,816.4 199.5,810.0 206.5,811.4 213.5,811.4 220.5,811.4 227.5,810.0 234.5,813.4 241.5,819.0 248.5,819.5 255.5,821.5 262.5,821.5 269.5,820.8 276.5,824.0 283.5,825.8 290.5,817.7 297.5,812.6 304.5,811.4 311.5,809.3 318.5,800.7 325.5,794.9 332.5,793.6 339.5,780.9 346.5,770.8 353.5,748.4 360.5,741.6 367.5,732.2 374.5,730.9 381.5,730.2 388.5,731.4 395.5,761.9 402.5,794.9 409.5,816.4 416.5,831.7 423.5,841.1 430.5,846.1 437.5,847.4 444.5,839.3 451.5,835.5 458.5,833.5 465.5,826.6 472.5,821.5 479.5,819.0 486.5,821.5 493.5,817.0 500.5,819.7 507.5,824.6 514.5,827.9 521.5,831.7 528.5,834.2 535.5,836.8 542.5,838.5 549.5,839.8 556.5,836.8 563.5,839.3 570.5,832.9 577.5,819.0 584.5,805.8 591.5,802.0 598.5,808.8 605.5,819.0 612.5,827.9 619.5,838.0 626.5,844.9 633.5,851.2 640.5,853.2 647.5,857.1 654.5,858.3 661.5,854.5 668.5,853.2 675.5,854.5 682.5,856.3 689.5,853.2 696.5,848.2 703.5,842.3 710.5,839.3" fill="none" stroke="#000" stroke-width="1" shape-rendering="crispEdges"/>
<polyline points="87.5,864.7 94.5,860.9 101.5,857.1 108.5,853.2 115.5,850.2 122.5,850.5 129.5,852.0 136.5,854.0 143.5,856.3 150.5,859.1 157.5,860.9 164.5,862.1 171.5,861.6 178.5,858.3 185.5,852.5 192.5,844.4 199.5,836.8 206.5,831.7 213.5,827.4 220.5,824.6 227.5,822.3 234.5,821.0 241.5,820.5 248.5,820.3 255.5,820.4 262.5,820.8 269.5,820.5 276.5,821.5 283.5,822.3 290.5,822.0 297.5,820.8 304.5,819.0 311.5,816.4 318.5,813.1 325.5,809.6 332.5,805.5 339.5,800.5 346.5,793.6 353.5,784.0 360.5,775.3 367.5,767.0 374.5,759.3 381.5,753.5 388.5,750.5 395.5,751.7 402.5,760.6 409.5,771.5 416.5,783.5 423.5,794.9 430.5,805.5 437.5,813.1 444.5,818.2 451.5,821.5 458.5,823.6 465.5,824.6 472.5,824.1 479.5,823.3 486.5,823.3 493.5,822.3 500.5,822.0 507.5,822.8 514.5,824.1 521.5,825.3 528.5,827.1 535.5,828.6 542.5,830.4 549.5,831.7 556.5,832.9 563.5,834.7 570.5,833.7 577.5,830.4 584.5,825.3 591.5,820.8 598.5,818.5 605.5,817.7 612.5,819.5 619.5,823.6 626.5,827.9 633.5,832.9 640.5,836.2 647.5,839.8 654.5,843.1 661.5,846.1 668.5,847.7 675.5,848.9 682.5,850.7 689.5,851.5 696.5,850.7 703.5,848.7 710.5,846.9" fill="none" stroke="#1010a0" stroke-width="1" shape-rendering="crispEdges"/>
<g stroke="#b8c4d0" stroke-width="1" shape-rendering="crispEdges"><path d="M136.5 927 V932 M290.5 927 V932 M437.5 927 V932 M598.5 927 V932"/></g>
<g font-size="12" font-weight="bold" fill="#232f4e">
<text x="138.5" y="939.5" textLength="44">2025/05</text>
<text x="292.5" y="939.5" textLength="44">2025/06</text>
<text x="439.5" y="939.5" textLength="44">2025/07</text>
<text x="600.5" y="939.5" textLength="44">2025/08</text>
</g>
<g font-size="12">
<text x="85" y="40" fill="#000" stroke="#000" stroke-width="0.3" textLength="60.5">美原油连续</text>
<text x="143.5" y="40" fill="#ff7a1a" stroke="#ff7a1a" stroke-width="0.3" letter-spacing="0.5">【日线】</text>
<g stroke="#ff7f10" fill="none" stroke-width="1"><circle cx="197.5" cy="37.5" r="4"/><path d="M193.5 37.5 H201.5 M197.5 33.5 V41.5"/></g>
<rect x="211" y="28" width="12" height="13" fill="#9a9a9a"/>
<rect x="210" y="27" width="12" height="13" fill="#000080"/>
<rect x="211" y="28.5" width="10" height="10" fill="#fff"/>
<path d="M211.1 34.4 L214.4 30.3 L217.4 33.6 L219.7 31.6 H221" stroke="#f01010" stroke-width="1.1" fill="none"/>
<path d="M211.1 37.7 L214.4 33.4 L217.4 36.7 L219.7 34.4 H221" stroke="#1010f0" stroke-width="1.1" fill="none"/>
<text x="224.5" y="40" fill="#111" textLength="93" lengthAdjust="spacingAndGlyphs">MA1(50,0,200,0)</text>
<text x="323" y="40" fill="#111" textLength="66" lengthAdjust="spacingAndGlyphs">MA50:66.31</text>
<text x="398.5" y="40" fill="#10108c" textLength="60" lengthAdjust="spacingAndGlyphs">MA0:63.66</text>
<text x="467.5" y="40" fill="#ff00ff" textLength="74" lengthAdjust="spacingAndGlyphs">MA200:67.48</text>
<text x="550.5" y="40" fill="#ff7a1a" textLength="60" lengthAdjust="spacingAndGlyphs">MA0:63.66</text>
<text x="85" y="722" fill="#111" textLength="79" lengthAdjust="spacingAndGlyphs">MACD(13,8,9)</text>
<text x="168" y="722" fill="#111" textLength="57" lengthAdjust="spacingAndGlyphs">DIFF:-0.29</text>
<text x="233.5" y="722" fill="#10108c" textLength="56" lengthAdjust="spacingAndGlyphs">DEA:-0.46</text>
<text x="296" y="722" fill="#ff00ff" textLength="65" lengthAdjust="spacingAndGlyphs">MACD:0.33</text>
</g>
<circle cx="21.8" cy="714.9" r="3.7" fill="#fff" stroke="#000" stroke-width="1"/><circle cx="21.8" cy="714.9" r="2.1" fill="#ff0000"/>
<path d="M21.8 708.1 V709.6 M21.8 720.2 V721.7 M15 714.9 H16.5 M27.1 714.9 H28.6 M16.6 709.7 L17.7 710.8 M25.9 719 L27 720.1 M27 709.7 L25.9 710.8 M17.7 719 L16.6 720.1" stroke="#ff0000" stroke-width="1.1" fill="none"/>
<g stroke="#c9d3dc" stroke-width="1" shape-rendering="crispEdges" fill="none">
<path d="M82.5 928 V947 M13 946.5 H83"/>
<path d="M0 963.5 H867"/>
<path d="M0 962.5 H13 M576 962.5 H867" stroke="#dbe2e9"/>
<path d="M13 947.5 H867" stroke="#dbe2e9"/>
<path d="M0 972.5 H867 M39.5 973 V985"/>
</g>
<rect x="736" y="964" width="131" height="8" fill="#b5b5b9"/>
<path d="M814 971.5 L825.7 965 L837.5 971.5 Z" fill="#6a6a6e"/>
<text x="26.5" y="942" font-size="13" font-weight="bold" fill="#ff7a1a">日线</text>
<path d="M57.5 941.5 L62 933.5 L66.5 941.5 Z" fill="#ff7a1a"/>
<text x="5" y="988" font-size="12" fill="#222">资讯</text>
<text x="739.2" y="961.2" font-size="31.5" fill="#b98f78" textLength="98" opacity="0.9">FX678</text>
<text x="738.2" y="960.2" font-size="31.5" fill="#d6e6f8" textLength="98">FX678</text>
</svg>
<div id="tabs">
<span style="left:0px;width:39px;background:#ff6600;color:#fff;border-right:none">指标</span>
<span style="left:39px;width:40px;">模板</span>
<span style="left:79px;width:58px;color:#ff7a1a"><i style="font-family:Liberation Serif,serif;transform:scaleX(0.9);margin:0 -1px">VIP</i>指标</span>
<span class="m" style="left:137px;width:28px"><i>MA</i></span>
<span class="m" style="left:165px;width:41px"><i>MACD</i></span>
<span class="m" style="left:206px;width:39px"><i>BOLL</i></span>
<span class="m" style="left:245px;width:34px"><i>VOL</i></span>
<span class="m" style="left:279px;width:40px"><i>BIAS</i></span>
<span class="m" style="left:319px;width:34px"><i>CCI</i></span>
<span class="m" style="left:353px;width:34px"><i>KDJ</i></span>
<span class="m" style="left:387px;width:40px"><i>LW&amp;</i></span>
<span class="m" style="left:427px;width:34px"><i>RSI</i></span>
<span class="m" style="left:461px;width:28px"><i>CR</i></span>
<span class="m" style="left:489px;width:34px"><i>PSY</i></span>
<span style="left:523px;width:41px;">设置</span>
</div>
</body></html>
